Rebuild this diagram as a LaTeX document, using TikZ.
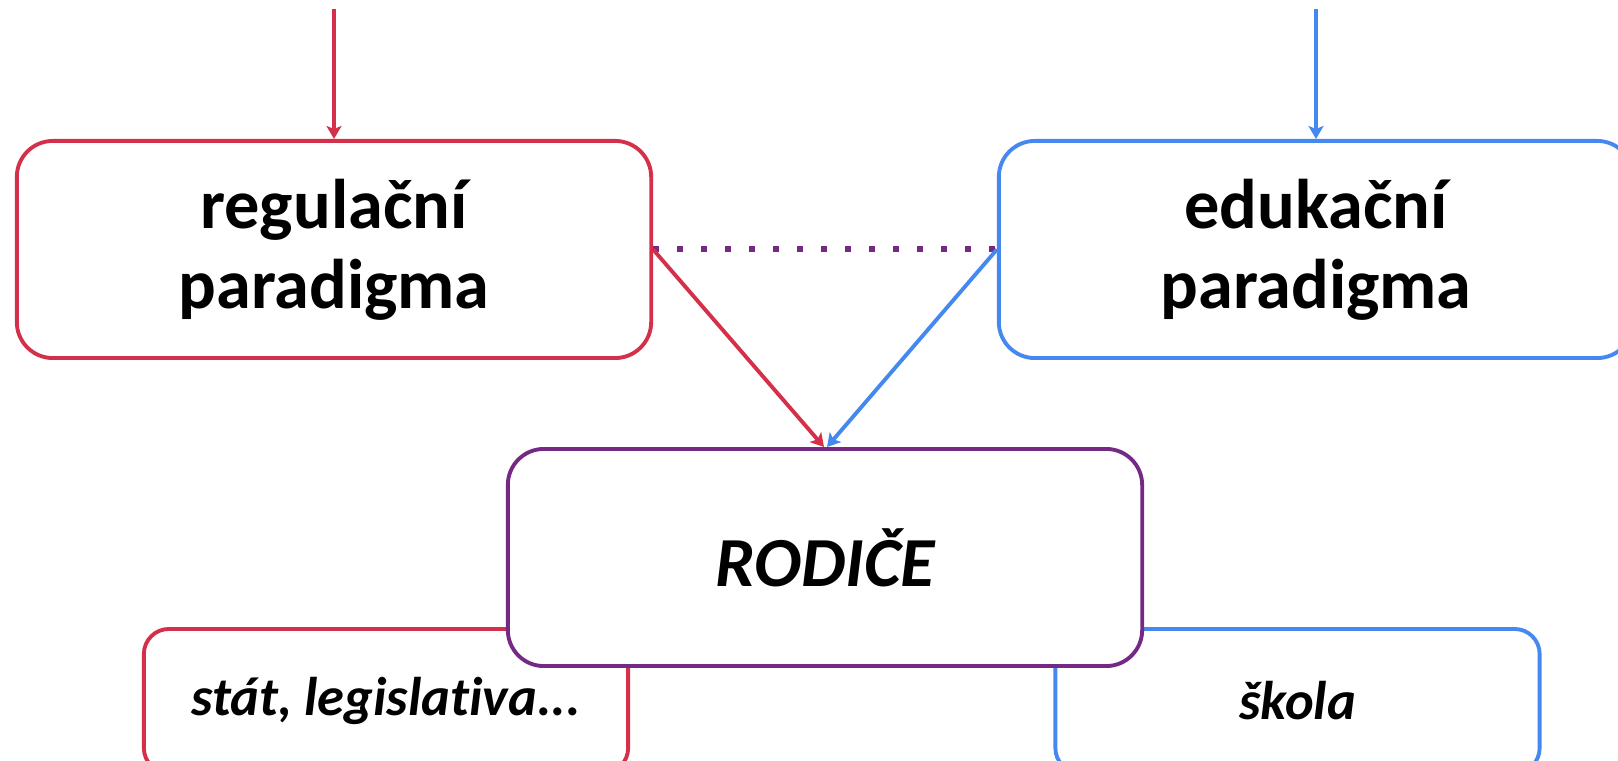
\documentclass[tikz,border=0pt]{standalone}
\usepackage{fontspec}
\setmainfont{Carlito}[Ligatures=NoCommon]
\usetikzlibrary{arrows.meta}
\definecolor{regred}{HTML}{D5304A}
\definecolor{edublue}{HTML}{4488F0}
\definecolor{rodpurple}{HTML}{742A84}

\begin{document}
\begin{tikzpicture}[x=0.01cm,y=-0.01cm]

    \tikzset{
      bigbox/.style={
        draw,
        fill=white,
        line width=1.1pt,
        rounded corners=0.36cm,
        minimum width=6.34cm,
        minimum height=2.17cm,
        align=center,
        font=\bfseries\fontsize{20}{22.8}\selectfont,
      },
      smallbox/.style={
        draw,
        fill=white,
        line width=1.1pt,
        rounded corners=0.25cm,
        minimum width=4.84cm,
        minimum height=1.44cm,
        font=\bfseries\itshape\fontsize{15.5}{18}\selectfont,
      },
      link/.style={
        line width=1.1pt,
        -{Stealth[length=0.13cm,width=0.15cm,inset=0.03cm]},
      },
    }
    \useasboundingbox (0,0) rectangle (1618,761);
    \clip (0,0) rectangle (1618,761);

	\node[smallbox,draw=regred] (stat) at (386,701) {stát, legislativa...};
	\node[smallbox,draw=edublue] (skola) at (1297.5,701) {škola};
	\node[bigbox,draw=regred] (regul) at (334,249.5) {regulační\\paradigma};
	\node[bigbox,draw=edublue] (eduk) at (1316,249.5) {edukační\\paradigma};
	\node[bigbox,draw=rodpurple,font=\bfseries\itshape\fontsize{20}{22.8}\selectfont] (rodice) at (825,557.5) {RODIČE};

	\coordinate (regtop) at (regul.north |- 0,9);
	\coordinate (edutop) at (eduk.north |- 0,9);
	\draw[link,color=regred] (regtop)--(regul.north);
	\draw[link,color=edublue] (edutop)--(eduk.north);
	\draw[color=rodpurple,line width=0.06cm,dash pattern=on 0.06cm off 0.18cm] (regul.east)--(eduk.west);
	\draw[link,color=regred] (regul.east)--([xshift=-0.01cm]rodice.north);
	\draw[link,color=edublue] (eduk.west)--([xshift=0.02cm]rodice.north);

\end{tikzpicture}
\end{document}
